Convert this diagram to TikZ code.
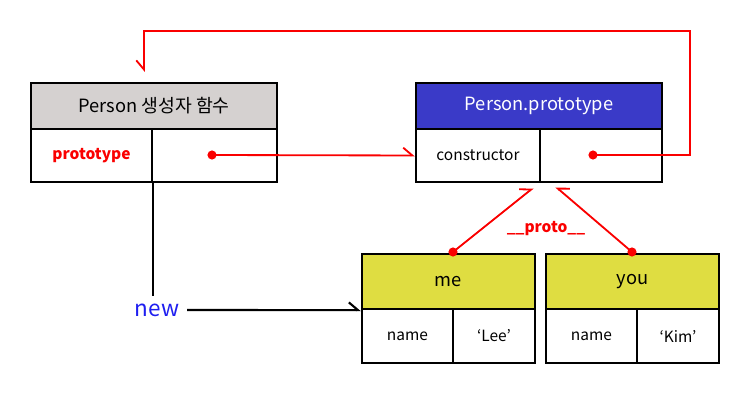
\documentclass[tikz,border=0pt]{standalone}
\usepackage{fontspec}
\setmainfont{Noto Sans CJK KR}
\usetikzlibrary{arrows.meta,calc}
\definecolor{headgray}{RGB}{213,209,208}
\definecolor{headblue}{RGB}{58,58,200}
\definecolor{headyellow}{RGB}{223,221,65}
\definecolor{linkred}{RGB}{250,0,0}
\definecolor{newblue}{RGB}{30,30,240}

\begin{document}
\begin{tikzpicture}[x=0.025cm, y=-0.025cm,
  cell/.style={draw, line width=1.6pt, inner sep=0pt, minimum height=1.325cm, font=\fontsize{11}{13}\selectfont},
  head/.style={cell, minimum height=1.15cm, font=\fontsize{13}{15}\selectfont},
  dot/.style={circle, fill=linkred, inner sep=0pt, minimum size=6.5pt},
  link/.style={draw=linkred, line width=1.3pt},
  barbl/.style={-{Straight Barb[left, length=6.5pt, width=11pt]}},
  barbr/.style={-{Straight Barb[right, length=6.5pt, width=11pt]}}
]
\useasboundingbox (0,0) rectangle (750,400);

% constructor function
\node[head, fill=headgray, minimum width=6.15cm] (ctorhead) at (154,106) {Person 생성자 함수};
\node[cell, minimum width=3.025cm, text=linkred, font=\fontsize{11}{13}\selectfont\bfseries] (ctorkey) at (91.5,155.5) {prototype};
\node[cell, minimum width=3.125cm] (ctorval) at (214.5,155.5) {};

% prototype object
\node[head, fill=headblue, text=white, minimum width=6.15cm] (protohead) at (539,106) {Person.prototype};
\node[cell, minimum width=3.1cm] (protokey) at (478,155.5) {constructor};
\node[cell, minimum width=3.05cm] (protoval) at (601,155.5) {};

% instances
\node[head, fill=headyellow, minimum width=4.325cm, minimum height=1.375cm] (mehead) at (448.5,281.5) {me};
\node[cell, minimum width=2.275cm, minimum height=1.35cm] (mekey) at (407.5,336) {name};
\node[cell, minimum width=2.05cm, minimum height=1.35cm] (meval) at (494,336) {‘Lee’};
\node[head, fill=headyellow, minimum width=4.325cm, minimum height=1.375cm] (youhead) at (632.5,281.5) {you};
\node[cell, minimum width=2.275cm, minimum height=1.35cm] (youkey) at (591.5,336) {name};
\node[cell, minimum width=2.05cm, minimum height=1.35cm] (youval) at (678,336) {‘Kim’};

\node[dot] (ctordot) at (212,155) {};
\node[dot] (protodot) at (593,155) {};
\node[dot] (medot) at (453,252) {};
\node[dot] (youdot) at (632,252) {};

\coordinate (loopR) at (690,31);
\coordinate (loopL) at (144,31);
\coordinate (loopEnd) at (144,72);
\coordinate (meTip) at (533,188);
\coordinate (youTip) at (556,187);

\draw[link, barbl] (ctordot.center) -- (protokey.west);
\draw[link, barbr] (protodot.center) -| (loopR) -- (loopL) -- (loopEnd);
\draw[link, barbl] (medot.center) -- (meTip);
\draw[link, barbr] (youdot.center) -- (youTip);
\node[text=linkred, font=\fontsize{11}{13}\selectfont\bfseries] (protolabel) at (546,229) {\_\_proto\_\_};

% new
\node[text=newblue, font=\fontsize{16}{18}\selectfont, inner sep=5.5pt] (new) at (157,310) {new};
\draw[line width=1.5pt] (ctorkey.south east) -- (ctorkey.south east |- new.north);
\draw[line width=1.5pt, barbl] (new.east) -- (mehead.south west);

\end{tikzpicture}
\end{document}
